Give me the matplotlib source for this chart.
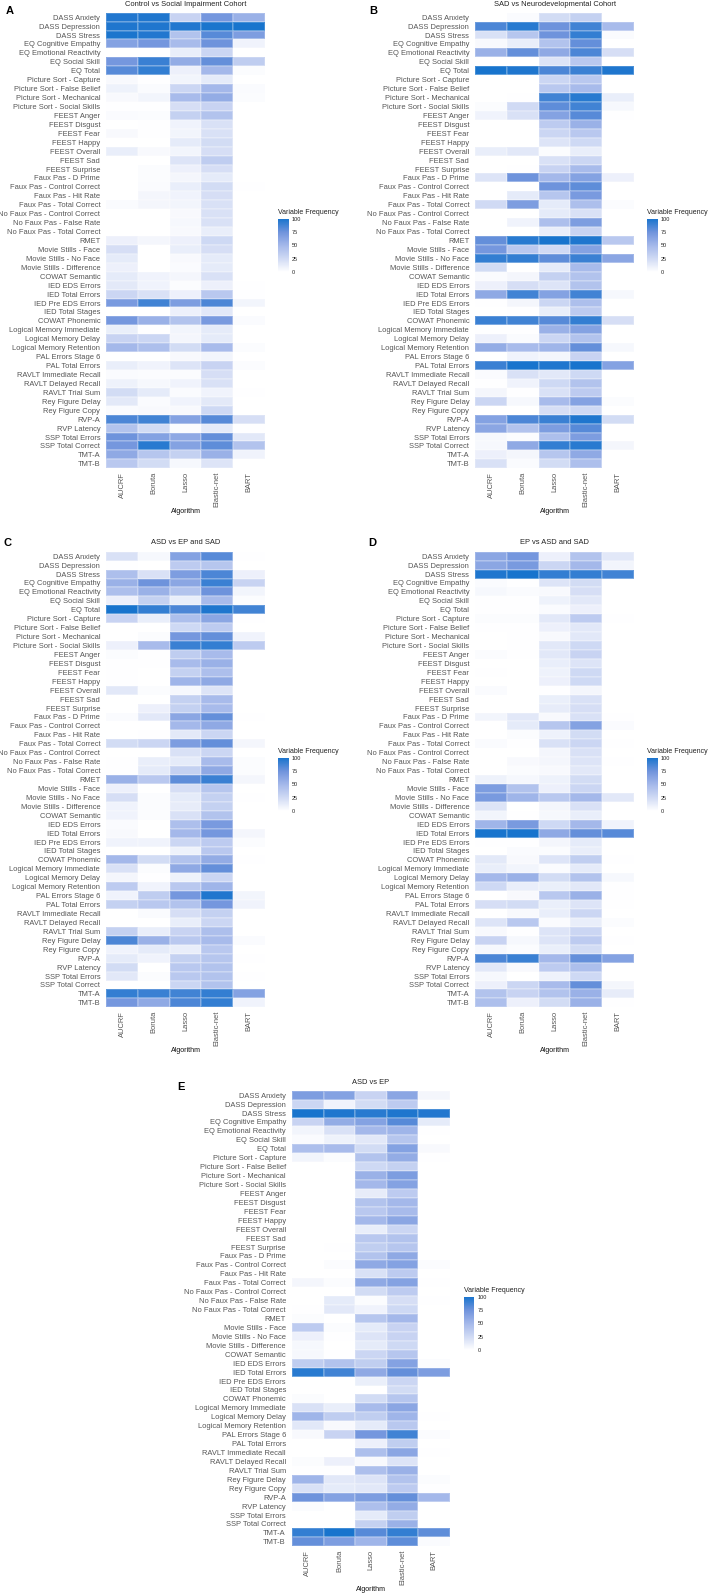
import matplotlib
matplotlib.use("Agg")
import matplotlib.pyplot as plt
import numpy as np
from matplotlib.colors import LinearSegmentedColormap

plt.rcParams['font.family'] = ['Liberation Sans', 'DejaVu Sans']

variables = ["DASS Anxiety","DASS Depression","DASS Stress","EQ Cognitive Empathy","EQ Emotional Reactivity",
"EQ Social Skill","EQ Total","Picture Sort - Capture","Picture Sort - False Belief","Picture Sort - Mechanical",
"Picture Sort - Social Skills","FEEST Anger","FEEST Disgust","FEEST Fear","FEEST Happy","FEEST Overall","FEEST Sad",
"FEEST Surprise","Faux Pas - D Prime","Faux Pas - Control Correct","Faux Pas - Hit Rate","Faux Pas - Total Correct",
"No Faux Pas - Control Correct","No Faux Pas - False Rate","No Faux Pas - Total Correct","RMET","Movie Stills - Face",
"Movie Stills - No Face","Movie Stills - Difference","COWAT Semantic","IED EDS Errors","IED Total Errors",
"IED Pre EDS Errors","IED Total Stages","COWAT Phonemic","Logical Memory Immediate","Logical Memory Delay",
"Logical Memory Retention","PAL Errors Stage 6","PAL Total Errors","RAVLT Immediate Recall","RAVLT Delayed Recall",
"RAVLT Trial Sum","Rey Figure Delay","Rey Figure Copy","RVP-A","RVP Latency","SSP Total Errors","SSP Total Correct",
"TMT-A","TMT-B"]
algorithms = ["AUCRF","Boruta","Lasso","Elastic-net","BART"]

values_a = [
[97,98,30,72,55],[98,98,97,99,100],[99,97,42,82,68],[65,72,48,75,8],[0,0,12,28,0],[72,90,58,78,35],[82,92,10,50,2],
[4,1,7,14,0],[9,3,28,50,3],[4,7,48,58,2],[1,1,22,30,0],[3,2,32,42,0],[0,1,8,20,0],[4,1,7,20,0],[0,0,14,24,0],
[12,4,7,22,0],[0,0,18,35,0],[0,2,10,22,0],[0,2,6,14,0],[0,3,12,24,1],[0,6,8,22,0],[3,6,7,20,0],[0,0,4,20,0],
[0,0,5,20,0],[0,0,4,12,0],[10,6,10,26,0],[22,0,12,22,0],[14,0,4,14,0],[10,0,3,14,0],[14,8,6,20,0],[15,8,2,10,1],
[28,20,10,38,1],[70,88,68,85,7],[0,0,10,16,0],[72,55,42,70,3],[11,1,7,14,0],[30,28,6,14,0],[50,45,24,48,2],
[0,0,4,7,0],[12,8,18,30,2],[3,2,2,22,0],[9,5,8,20,0],[24,14,3,8,1],[15,3,8,15,0],[3,4,4,26,0],[85,88,65,82,22],
[42,24,2,14,1],[75,65,60,78,16],[72,95,65,80,42],[60,40,32,55,8],[38,24,5,18,0]]
values_b = [
[0,3,24,32,0],[85,95,75,88,48],[20,40,75,92,3],[4,12,42,78,0],[55,78,60,85,22],[0,0,18,38,0],[100,98,85,90,98],
[0,0,28,38,0],[0,0,38,48,0],[0,1,88,95,12],[2,25,80,88,5],[8,20,65,82,1],[0,0,36,55,0],[0,0,28,38,0],[0,0,18,26,0],
[12,16,2,12,0],[0,0,20,28,0],[0,1,30,48,0],[18,75,50,65,10],[0,0,75,80,0],[0,14,40,70,0],[25,68,14,45,2],
[0,0,14,20,0],[0,8,45,68,0],[0,0,12,30,0],[78,95,100,98,38],[72,38,25,65,0],[92,92,80,90,62],[24,0,14,48,0],
[3,6,32,42,0],[10,22,18,42,0],[60,88,65,88,5],[1,6,28,45,0],[0,1,12,36,0],[90,88,82,92,22],[1,1,55,65,0],
[10,3,28,42,0],[58,48,52,78,5],[0,8,6,30,0],[90,100,98,100,65],[3,20,16,26,0],[1,8,26,42,0],[6,1,20,36,0],
[28,5,48,65,2],[0,0,22,26,0],[65,85,90,98,24],[62,42,68,82,0],[5,2,45,68,0],[5,60,92,95,6],[10,6,40,60,0],[20,3,24,45,0]]
values_c = [
[20,5,65,82,1],[1,0,36,40,0],[45,20,68,85,10],[55,75,62,90,30],[45,55,42,75,7],[10,32,12,48,2],[100,92,85,98,88],
[30,12,45,62,1],[0,0,26,36,0],[0,2,72,78,8],[10,48,90,92,36],[2,1,35,48,0],[1,1,48,55,0],[1,0,32,45,0],[1,0,52,60,0],
[16,2,5,18,0],[0,0,32,48,0],[0,10,32,48,0],[3,16,62,78,1],[0,0,50,60,0],[0,1,15,28,0],[24,28,68,78,6],[0,0,20,28,0],
[1,12,14,48,2],[1,14,32,60,2],[55,38,80,90,6],[10,0,22,40,0],[22,2,14,32,1],[8,2,13,32,0],[8,2,20,42,0],[3,0,45,70,0],
[4,0,50,72,6],[8,8,28,36,2],[0,0,9,38,0],[50,24,42,58,1],[20,2,60,78,0],[6,1,9,28,0],[36,8,38,52,0],[8,35,72,98,7],
[32,38,42,72,8],[0,3,22,32,0],[0,0,12,28,0],[32,12,30,45,0],[85,55,38,48,3],[8,14,12,38,0],[14,8,32,40,1],[24,0,38,42,0],
[16,2,38,42,1],[0,0,28,42,0],[92,90,88,92,65],[72,60,85,92,8]]
values_d = [
[62,72,10,42,16],[62,70,28,50,7],[98,100,92,92,88],[3,1,18,24,0],[5,3,4,22,0],[1,1,9,16,0],[1,1,3,10,0],[2,2,16,36,1],
[1,1,10,16,0],[0,1,4,16,0],[0,1,16,26,0],[2,1,16,30,0],[0,0,12,18,0],[1,0,9,26,0],[0,0,10,26,0],[3,0,1,6,0],[0,0,11,20,0],
[0,0,13,22,0],[7,16,4,20,1],[0,14,40,65,3],[0,2,9,24,0],[3,1,20,28,1],[0,0,6,20,0],[0,4,6,18,1],[0,2,4,16,0],[9,5,9,24,0],
[68,42,10,28,0],[70,52,38,50,16],[18,0,6,20,0],[7,1,5,12,0],[52,70,26,50,8],[100,100,60,78,82],[1,1,6,14,0],[0,3,2,12,0],
[15,4,18,34,1],[12,7,3,14,0],[50,55,24,42,5],[26,12,11,16,1],[0,4,38,55,1],[22,24,11,18,1],[0,4,12,28,0],[18,38,3,12,2],
[4,1,18,28,0],[30,5,18,36,1],[5,2,11,24,0],[85,90,50,78,65],[16,4,36,45,0],[5,0,9,26,0],[10,28,48,78,6],[42,30,42,55,13],
[45,10,24,55,1]]
values_e = [
[68,65,30,62,6],[28,8,24,36,0],[100,98,95,98,97],[30,58,65,82,14],[7,20,50,52,1],[3,9,16,40,0],[45,48,24,65,4],[7,2,42,58,1],
[0,0,26,32,0],[0,0,55,68,0],[0,0,50,65,0],[0,0,13,36,0],[0,0,42,50,0],[0,0,38,48,0],[0,0,50,62,0],[0,0,12,28,0],[0,0,38,42,0],
[0,1,34,40,0],[0,0,42,60,0],[0,2,60,65,2],[0,0,20,36,0],[6,2,60,65,1],[0,0,24,36,0],[0,14,2,22,1],[1,16,8,26,0],[2,0,40,50,0],
[36,2,14,30,0],[10,1,18,30,0],[5,0,14,26,0],[5,1,28,40,0],[35,42,34,65,2],[95,88,60,78,68],[0,0,11,28,0],[0,0,0,24,0],
[2,0,24,40,0],[20,12,48,62,0],[52,35,34,52,1],[16,4,14,38,0],[4,30,72,88,2],[0,0,10,34,0],[0,0,45,62,1],[2,10,4,18,0],
[1,1,45,55,0],[52,16,18,42,2],[20,14,16,36,1],[75,65,68,78,50],[2,0,45,58,0],[0,0,14,34,0],[0,0,32,55,0],[92,100,82,92,80],
[78,68,52,80,3]]

titles = ["Control vs Social Impairment Cohort","SAD vs Neurodevelopmental Cohort","ASD vs EP and SAD","EP vs ASD and SAD","ASD vs EP"]
letters = ["A","B","C","D","E"]
panel_values = [values_a, values_b, values_c, values_d, values_e]
colorbar_ticks = [0, 25, 50, 75, 100]

W, H = 709, 1594
cmap = LinearSegmentedColormap.from_list("vf", [(0, "#ffffff"), (.25, "#d0daf4"), (.5, "#a4b8ea"), (.75, "#6f93dc"), (1, "#1874cd")])

# left, top, right, bottom of each tile area in pixels; letter x, y; title y
geom = [(106.3, 12.7, 264.7, 468.3, 9.5, 10.5, 4.2),
        (475.3, 12.7, 633.7, 468.3, 373, 10.5, 4.2),
        (106.3, 551.7, 264.7, 1007.3, 8, 543.5, 543),
        (475.3, 551.7, 633.7, 1007.3, 372, 543.5, 543),
        (292.0, 1090.7, 450.0, 1546.3, 181, 1087, 1082)]

fig = plt.figure(figsize=(W/100, H/100), dpi=100, facecolor="white")

def add_px_axes(l, t, r, b):
    return fig.add_axes([l/W, 1-b/H, (r-l)/W, (b-t)/H])

GREY = "#555555"
for vals, title, letter, (l, t, r, b, lx, ly, ty) in zip(panel_values, titles, letters, geom):
    ax = add_px_axes(l, t, r, b)
    arr = np.array(vals, dtype=float)
    m = ax.pcolormesh(np.arange(6)-.5, np.arange(52)-.5, arr, cmap=cmap, vmin=0, vmax=100,
                      edgecolors="#ffffff30", linewidth=0.3)
    ax.set_ylim(50.5, -0.5)
    ax.set_xlim(-.5, 4.5)
    ax.set_xticks(range(5), algorithms, rotation=90, fontsize=5.4, color=GREY)
    ax.set_yticks(range(51), variables, fontsize=5.4, color=GREY)
    ax.tick_params(length=0, pad=4.4)
    ax.tick_params(axis="x", pad=2.6)
    for s in ax.spines.values():
        s.set_visible(False)
    fig.text((l+r)/2/W, 1-(b+43.4)/H, "Algorithm", ha="center", va="center", fontsize=5.1, color="#111111")
    fig.text((l+r)/2/W, 1-ty/H, title, ha="center", va="center", fontsize=5.4, color="#222222")
    fig.text(lx/W, 1-ly/H, letter, ha="center", va="center", fontsize=8, fontweight="bold", color="black")
    cax = add_px_axes(l+171.7, t+206, l+182.4, t+259.3)
    cb = fig.colorbar(m, cax=cax, ticks=colorbar_ticks)
    cb.outline.set_visible(False)
    cb.ax.tick_params(length=0, pad=2.4, labelsize=4.0, labelcolor="#222222")
    fig.text((l+171.7)/W, 1-(t+199.5)/H, "Variable Frequency", ha="left", va="center", fontsize=5.0, color="#222222")

fig.savefig("out.png", dpi=100)
